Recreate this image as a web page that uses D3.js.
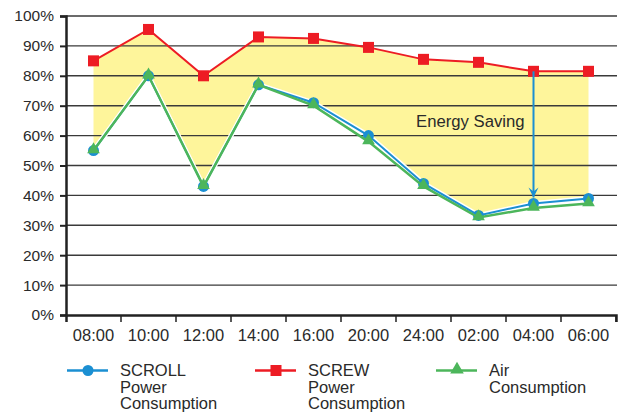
<!DOCTYPE html>
<html><head><meta charset="utf-8">
<script src="https://cdn.jsdelivr.net/npm/d3@7"></script>
<style>body{margin:0;background:#fff}svg{display:block}text{font-family:"Liberation Sans",Arial,sans-serif;fill:#2a2a2a}</style>
</head><body><svg id="c" width="618" height="413"></svg>
<script>
const categories = ["08:00","10:00","12:00","14:00","16:00","20:00","24:00","02:00","04:00","06:00"];
const scroll = [55, 80, 43, 77, 71, 60, 44, 33.3, 37.3, 39];
const screw  = [85, 95.5, 80, 93, 92.5, 89.5, 85.5, 84.5, 81.5, 81.5];
const air    = [55, 80, 43, 77, 70, 58, 43, 32.6, 35.8, 37.3];
const yTicks = [0,10,20,30,40,50,60,70,80,90,100];
const seriesNames = [["SCROLL","Power","Consumption"],["SCREW","Power","Consumption"],["Air","Consumption"]];
const arrowCat = "04:00";
const annotation = "Energy Saving";

const svg = d3.select("#c");
const x = d3.scaleBand().domain(categories).range([66,616]);
const y = d3.scaleLinear().domain([0,100]).range([315,16]);
const cx = c => x(c) + x.bandwidth()/2;
const blue="#1b8fd2", red="#ed1c24", green="#4cb65b";

// fill
const area = d3.area().x((d,i)=>cx(categories[i])).y0((d,i)=>y(scroll[i])).y1(d=>y(d));
svg.append("path").datum(screw).attr("d",area).attr("fill","#fef59b");

// grid
svg.append("g").selectAll("line").data(yTicks.slice(1)).join("line")
  .attr("x1",66).attr("x2",617).attr("y1",d=>y(d)).attr("y2",d=>y(d))
  .attr("stroke","#3a3a3a").attr("stroke-width",1.4);

// axes
const yAxis = d3.axisLeft(y).tickValues(yTicks).tickFormat(d=>d+"%").tickSize(6).tickPadding(6);
const gy = svg.append("g").attr("transform","translate(66,0)").call(yAxis);
gy.select(".domain").attr("stroke","#222").attr("stroke-width",2.5);
gy.selectAll(".tick line").attr("stroke","#222").attr("stroke-width",2);
gy.selectAll("text").style("font-size","15.5px").attr("fill","#2a2a2a");

const xAxis = d3.axisBottom(x).tickSizeOuter(0).tickSize(7).tickPadding(7);
const gx = svg.append("g").attr("transform","translate(0,315)").call(xAxis);
gx.select(".domain").attr("stroke","#222").attr("stroke-width",2.5);
gx.selectAll(".tick line").attr("stroke","#222").attr("stroke-width",1.5).attr("transform",`translate(${x.bandwidth()/2},0)`);
gx.append("line").attr("x1",616).attr("x2",616).attr("y1",0).attr("y2",7).attr("stroke","#222").attr("stroke-width",1.5);
gx.selectAll("text").style("font-size","16.5px").attr("fill","#2a2a2a");
gx.selectAll(".tick").filter(d=>d===categories[categories.length-1]).select("line").remove();

const line = d3.line().x((d,i)=>cx(categories[i])).y(d=>y(d));

// red line
svg.append("path").datum(screw).attr("d",line).attr("fill","none").attr("stroke",red).attr("stroke-width",2);
svg.append("g").selectAll("rect").data(screw).join("rect")
  .attr("x",(d,i)=>cx(categories[i])-5.5).attr("y",d=>y(d)-5.5).attr("width",11).attr("height",11).attr("fill",red);

// arrow
const ai = categories.indexOf(arrowCat);
const ax = cx(arrowCat);
svg.append("line").attr("x1",ax).attr("x2",ax).attr("y1",y(screw[ai])).attr("y2",y(scroll[ai])-6)
  .attr("stroke",blue).attr("stroke-width",2);
const tipY = y(scroll[ai])-6;
svg.append("path").attr("d",`M${ax-5},${tipY-10} L${ax},${tipY-6} L${ax+5},${tipY-10} L${ax},${tipY} Z`).attr("fill",blue);

// blue line
svg.append("path").datum(scroll).attr("d",line).attr("fill","none").attr("stroke","#fff").attr("stroke-width",5);
svg.append("path").datum(scroll).attr("d",line).attr("fill","none").attr("stroke",blue).attr("stroke-width",2);
svg.append("g").selectAll("circle").data(scroll).join("circle")
  .attr("cx",(d,i)=>cx(categories[i])).attr("cy",d=>y(d)).attr("r",5.5).attr("fill",blue);

// green line
svg.append("path").datum(air).attr("d",line).attr("fill","none").attr("stroke",green).attr("stroke-width",2.5);
const tri = d3.symbol().type(d3.symbolTriangle).size(70);
svg.append("g").selectAll("path").data(air).join("path")
  .attr("d",tri).attr("transform",(d,i)=>`translate(${cx(categories[i])},${y(d)-1})`).attr("fill",green);

// annotation
svg.append("text").attr("x",416).attr("y",127).text(annotation).style("font-size","16.7px");

// legend
const legX = [67,255,436];
const legColors=[blue,red,green];
seriesNames.forEach((lines,k)=>{
  const g = svg.append("g");
  g.append("line").attr("x1",legX[k]).attr("x2",legX[k]+41).attr("y1",370.5).attr("y2",370.5).attr("stroke",legColors[k]).attr("stroke-width",2.5);
  const mx = legX[k]+21;
  if(k===0) g.append("circle").attr("cx",mx).attr("cy",370.5).attr("r",5.5).attr("fill",blue);
  if(k===1) g.append("rect").attr("x",mx-5.5).attr("y",365).attr("width",11).attr("height",11).attr("fill",red);
  if(k===2) g.append("path").attr("d",d3.symbol().type(d3.symbolTriangle).size(80)).attr("transform",`translate(${mx},369.5)`).attr("fill",green);
  lines.forEach((t,j)=>{
    g.append("text").attr("x",legX[k]+53).attr("y",376+j*16.6).text(t).style("font-size","16.5px");
  });
});
</script></body></html>
